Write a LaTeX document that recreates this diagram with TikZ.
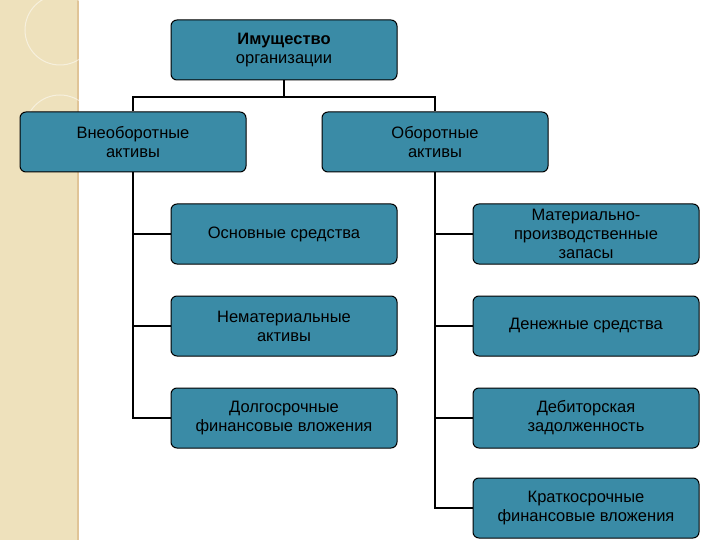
\documentclass[tikz,border=0pt]{standalone}
\usepackage{fontspec}
\setmainfont{Liberation Sans}
\begin{document}
\begin{tikzpicture}[x=1pt,y=-1pt,
  box/.style={draw=black,line width=1pt,fill=boxc,rounded corners=6pt,minimum width=226pt,minimum height=60pt,align=center,inner sep=1pt,font=\fontsize{16.5}{19}\selectfont,text=black},
  ln/.style={draw=black,line width=1.6pt}]
\definecolor{boxc}{HTML}{3A8BA6}
\definecolor{strip}{HTML}{EEE1BC}
\useasboundingbox (0,0) rectangle (720,540);
\fill[white] (0,0) rectangle (720,540);
\fill[strip] (0,0) rectangle (78,540);
\draw[color=strip!70!brown,line width=1.5pt] (78,0) -- (78,540);
\draw[white,opacity=0.5,line width=1pt] (60,30) circle (35);
\draw[white,opacity=0.5,line width=1pt] (60,130) circle (35);
\node[box] (top) at (284,50) {\textbf{Имущество}\\организации};
\node[box] (vn) at (133,142) {Внеоборотные\\активы};
\node[box] (ob) at (435,142) {Оборотные\\активы};
\node[box] (l1) at (284,234) {Основные средства};
\node[box] (l2) at (284,326) {Нематериальные\\активы};
\node[box] (l3) at (284,418) {Долгосрочные\\финансовые вложения};
\node[box] (r1) at (586,234) {Материально-\\производственные\\запасы};
\node[box] (r2) at (586,326) {Денежные средства};
\node[box] (r3) at (586,418) {Дебиторская\\задолженность};
\node[box] (r4) at (586,508) {Краткосрочные\\финансовые вложения};
\coordinate (bus) at (284,97);
\draw[ln] (top.south) -- (bus);
\draw[ln] (vn.north) |- (bus) -| (ob.north);
\draw[ln] (vn.south) |- (l1.west);
\draw[ln] (vn.south) |- (l2.west);
\draw[ln] (vn.south) |- (l3.west);
\draw[ln] (ob.south) |- (r1.west);
\draw[ln] (ob.south) |- (r2.west);
\draw[ln] (ob.south) |- (r3.west);
\draw[ln] (ob.south) |- (r4.west);
\end{tikzpicture}
\end{document}
